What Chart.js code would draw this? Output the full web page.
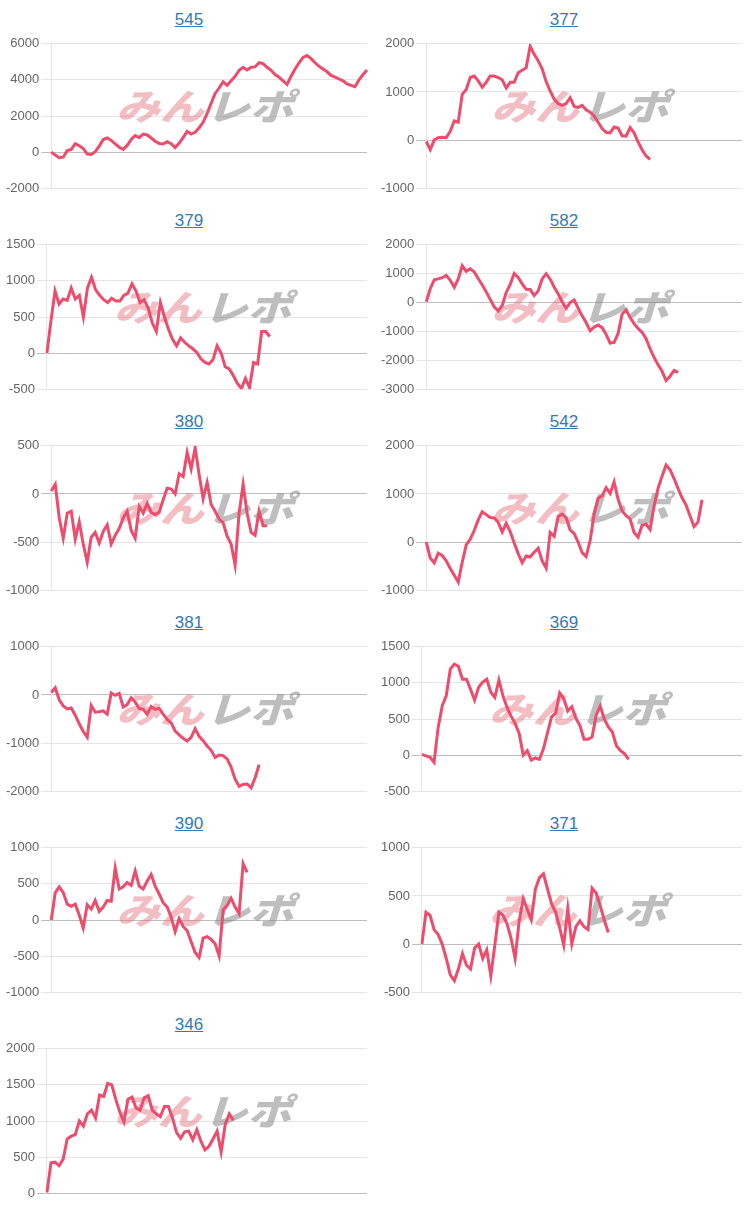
<!DOCTYPE html>
<html>
<head>
<meta charset="utf-8">
<script src="https://cdn.jsdelivr.net/npm/chart.js@4.4.0/dist/chart.umd.min.js"></script>
<style>
  body { margin: 0; background: #fff; font-family: Arial, "Liberation Sans", sans-serif; }
  #wrap { position: relative; width: 750px; height: 1205px; }
  .block { position: absolute; height: 201px; }
  .block .title { position: absolute; left: 3px; right: 0; top: 10px; text-align: center; font-size: 17px; line-height: 20px; }
  .block .title a { color: #337ab7; text-decoration: underline; }
  .block .box { position: absolute; left: 0; right: 0; top: 34px; height: 164px; }
</style>
</head>
<body>
<div id="wrap"></div>
<script>
// x categories (not shown on the chart)
const xLabels = Array.from({ length: 80 }, (_, i) => i + 1);

const chartTitles = ['545', '377', '379', '582', '380', '542', '381', '369', '390', '371', '346'];

const series545 = [0,-160,-310,-280,90,150,470,350,200,-110,
  -130,20,330,700,780,650,460,270,150,370,
  700,920,800,1000,950,780,600,480,450,580,
  470,250,500,800,1150,1000,1100,1350,1650,2150,
  2700,3250,3550,3900,3700,3950,4200,4530,4700,4550,
  4700,4720,4950,4900,4700,4530,4300,4150,3950,3750,
  4200,4600,4950,5250,5350,5180,4950,4750,4600,4450,
  4250,4150,4050,3950,3780,3700,3620,4000,4300,4550];
const series377 = [-30,-200,0,50,60,50,180,400,370,950,
  1050,1300,1330,1230,1100,1200,1330,1330,1300,1250,
  1080,1200,1200,1400,1450,1500,1950,1780,1650,1480,
  1210,1020,850,760,720,760,880,700,680,720,
  630,580,500,370,240,160,150,270,250,90,
  80,260,150,-40,-200,-330,-400];
const series379 = [0,450,860,680,750,730,900,750,800,500,
  900,1050,880,800,740,700,760,720,720,800,
  830,960,860,700,740,620,420,300,700,500,
  330,190,100,210,150,100,60,10,-80,-130,
  -150,-90,100,0,-190,-220,-310,-420,-490,-350,
  -480,-130,-150,300,300,230];
const series582 = [30,480,790,820,860,940,770,530,820,1280,
  1080,1170,1060,830,610,370,110,-150,-290,-100,
  350,630,1010,870,650,460,450,240,400,820,
  1000,810,540,300,30,-200,0,90,-190,-460,
  -690,-980,-850,-780,-870,-1100,-1400,-1380,-1070,-400,
  -250,-520,-730,-900,-1030,-1250,-1600,-1900,-2150,-2380,
  -2700,-2550,-2350,-2420];
const series380 = [30,100,-250,-460,-200,-180,-470,-290,-520,-710,
  -450,-400,-510,-390,-320,-520,-430,-360,-250,-180,
  -380,-460,-130,-200,-100,-190,-215,-190,-60,60,
  50,0,210,180,430,260,480,200,-50,120,
  -110,-180,-260,-300,-440,-520,-740,-200,100,-200,
  -400,-430,-180,-330,-330];
const series542 = [0,-330,-430,-230,-280,-390,-550,-690,-830,-420,
  -60,60,240,460,630,570,510,500,410,210,
  390,220,-20,-240,-430,-290,-310,-210,-130,-390,
  -540,200,120,530,580,510,250,180,0,-220,
  -300,30,580,910,960,1130,1010,1250,890,650,
  550,480,200,100,350,370,260,750,1120,1370,
  1600,1500,1320,1110,920,770,540,320,420,880];
const series381 = [50,150,-100,-230,-290,-270,-420,-600,-760,-880,
  -220,-360,-350,-330,-400,40,-10,30,-250,-200,
  -60,-150,-280,-300,-400,-240,-300,-280,-400,-510,
  -580,-750,-830,-900,-960,-880,-700,-860,-950,-1060,
  -1150,-1300,-1250,-1260,-1330,-1500,-1750,-1900,-1860,-1850,
  -1930,-1720,-1450];
const series369 = [10,-10,-30,-100,380,680,820,1190,1260,1230,
  1050,1050,910,760,940,1010,1050,870,800,1040,
  820,660,540,440,300,0,60,-70,-40,-60,
  90,310,530,580,860,780,610,670,510,410,
  220,220,250,550,680,500,390,320,130,60,
  20,-60];
const series390 = [0,380,460,380,220,190,220,70,-110,210,
  150,270,120,180,270,260,720,430,460,520,
  480,680,470,430,540,630,470,360,240,180,
  40,-160,20,-90,-150,-300,-450,-520,-250,-230,
  -270,-330,-500,140,200,300,180,90,780,660];
const series371 = [0,330,300,150,100,0,-150,-320,-380,-260,
  -100,-220,-260,-40,0,-150,-60,-330,-10,330,
  300,210,60,-150,240,470,360,250,570,690,
  730,570,420,330,170,-10,370,0,180,240,
  180,150,580,530,400,250,120];
const series346 = [10,420,430,380,470,750,790,810,1000,930,
  1100,1150,1040,1360,1340,1520,1500,1300,1120,990,
  1300,1330,1180,1150,1320,1350,1150,1100,1060,1200,
  1200,1040,840,760,850,860,740,880,720,600,
  650,750,860,570,950,1100,1010];

// y axis ticks for each chart
const yMinList = [-2000, -1000, -500, -3000, -1000, -1000, -2000, -500, -1000, -500, 0];
const yMaxList = [6000, 2000, 1500, 2000, 500, 2000, 1000, 1500, 1000, 1000, 2000];
const yStepList = [2000, 1000, 500, 1000, 500, 1000, 1000, 500, 500, 500, 500];

const seriesList = [series545, series377, series379, series582, series380, series542,
  series381, series369, series390, series371, series346];

Chart.defaults.font.family = 'Arial, "Liberation Sans", sans-serif';
Chart.defaults.font.size = 13;
Chart.defaults.color = '#666';

// みんレポ logo behind the line
const watermarkPlugin = {
  id: 'watermark',
  beforeDatasetsDraw(chart) {
    const { ctx, chartArea } = chart;
    const cx = (chartArea.left + chartArea.right) / 2;
    const cy = chartArea.top + (chartArea.bottom - chartArea.top) * 0.43;
    ctx.save();
    ctx.translate(cx, cy);
    ctx.transform(1.15, 0, -0.3, 0.95, 0, 0);
    ctx.font = '900 38px "Noto Sans CJK JP", sans-serif';
    ctx.textBaseline = 'middle';
    const w1 = ctx.measureText('みん').width;
    const w2 = ctx.measureText('レポ').width;
    const x0 = -(w1 + w2 + 2) / 2;
    ctx.fillStyle = 'rgba(226, 110, 122, 0.45)';
    ctx.fillText('みん', x0, 0);
    ctx.fillStyle = 'rgba(125, 125, 125, 0.5)';
    ctx.fillText('レポ', x0 + w1 + 2, 0);
    ctx.restore();
  }
};

function setDataChart(index) {
  const col = index % 2;
  const row = Math.floor(index / 2);

  const block = document.createElement('div');
  block.className = 'block';
  block.style.left = (col == 0 ? 0 : 375) + 'px';
  block.style.width = '375px';
  block.style.top = (row * 201) + 'px';
  block.innerHTML = '<div class="title"><a href="#">' + chartTitles[index] + '</a></div>' +
    '<div class="box"><canvas></canvas></div>';
  document.getElementById('wrap').appendChild(block);

  new Chart(block.querySelector('canvas'), {
    type: 'line',
    data: {
      labels: xLabels,
      datasets: [{
        label: chartTitles[index],
        data: seriesList[index],
        borderColor: 'rgb(238, 76, 108)',
        backgroundColor: 'rgb(238, 76, 108)',
        borderWidth: 3,
        pointRadius: 0,
        fill: false,
        tension: 0
      }]
    },
    options: {
      responsive: true,
      maintainAspectRatio: false,
      animation: false,
      layout: { padding: { left: 4, right: 8, top: 0, bottom: 0 } },
      plugins: { legend: { display: false }, tooltip: { enabled: false } },
      scales: {
        x: { display: false },
        y: {
          min: yMinList[index],
          max: yMaxList[index],
          ticks: { stepSize: yStepList[index], padding: 2, callback: (v) => String(v) },
          border: { display: true, color: 'rgba(0,0,0,0.1)' },
          grid: {
            tickLength: 10,
            color: (c) => (c.tick && c.tick.value === 0) ? 'rgba(0,0,0,0.25)' : 'rgba(0,0,0,0.1)'
          }
        }
      }
    },
    plugins: [watermarkPlugin]
  });
}

for (let i = 0; i < chartTitles.length; i++) {
  setDataChart(i);
}
</script>
</body>
</html>
